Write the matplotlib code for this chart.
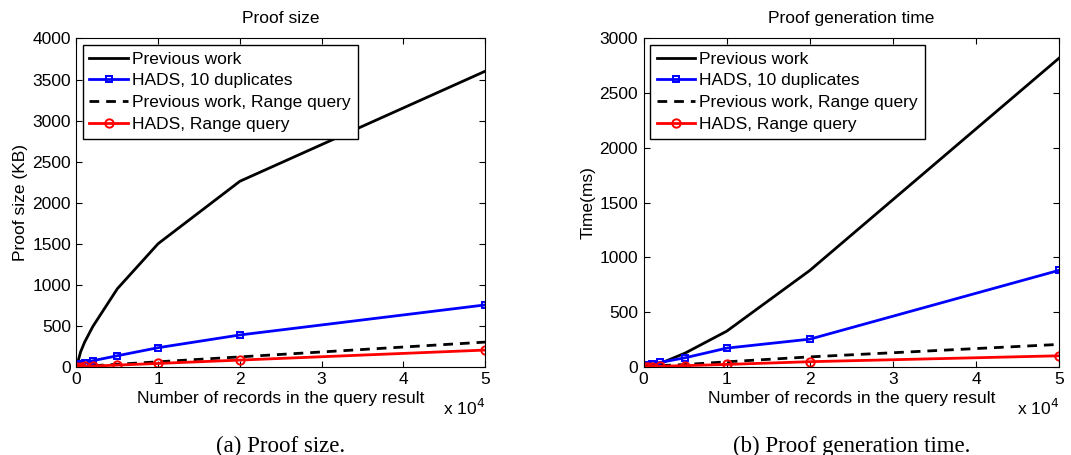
import numpy as np
import matplotlib
matplotlib.use('Agg')
from matplotlib import pyplot as plt

plt.rcParams['font.family'] = ['Liberation Sans', 'DejaVu Sans']

fontsz = 12.5

# number of records in the query result
x = [100, 500, 1000, 2000, 5000, 10000, 20000, 50000]

# proof size (KB)
size_prev = [30, 180, 300, 490, 950, 1500, 2260, 3600]
size_hads = [10, 30, 42, 73, 134, 232, 387, 753]
size_prev_range = [1, 3, 6, 12, 30, 60, 120, 300]
size_hads_range = [0.4, 2, 4, 8, 20, 40, 81, 203]

# proof generation time (ms)
time_prev = [2, 8, 15, 30, 125, 325, 880, 2820]
time_hads = [5, 15, 24, 40, 82, 170, 252, 881]
time_prev_range = [1, 3, 5, 10, 20, 45, 90, 204]
time_hads_range = [0.5, 1, 2, 4, 10, 21, 46, 100]

labels = ['Previous work', 'HADS, 10 duplicates', 'Previous work, Range query', 'HADS, Range query']


def draw_panel(ax, ys, ymax, ystep, title, ylabel, caption):
    ax.plot(x, ys[0], color='k', lw=2, label=labels[0])
    ax.plot(x, ys[1], color='b', lw=2, marker='s', ms=5, mfc='none', mew=1.4, label=labels[1])
    ax.plot(x, ys[2], color='k', lw=2, ls=(0, (3.5, 2.5)), label=labels[2])
    ax.plot(x, ys[3], color='r', lw=2, marker='o', ms=6, mfc='none', mew=1.4, label=labels[3])
    ax.set_xlim(0, 50000)
    ax.set_ylim(0, ymax)
    ax.set_xticks(np.arange(0, 50001, 10000))
    ax.set_xticklabels(['0', '1', '2', '3', '4', '5'])
    ax.set_yticks(np.arange(0, ymax + 1, ystep))
    ax.tick_params(direction='in', top=True, right=True, labelsize=fontsz, length=4, pad=4)
    ax.set_title(title, fontsize=fontsz, pad=11)
    ax.set_ylabel(ylabel, fontsize=fontsz, labelpad=3)
    ax.set_xlabel('Number of records in the query result', fontsize=fontsz, labelpad=3)
    ax.text(1.0, -0.095, r'x 10$^4$', transform=ax.transAxes, fontsize=fontsz, ha='right', va='top')
    ax.text(0.5, -0.21, caption, transform=ax.transAxes, fontsize=16.5, ha='center', va='top',
            family='Liberation Serif')
    leg = ax.legend(loc='upper left', fontsize=fontsz, handlelength=2.2, handletextpad=0.25,
                    labelspacing=0.38, borderpad=0.4, borderaxespad=0.35, fancybox=False, framealpha=1)
    leg.get_frame().set_edgecolor('k')
    leg.get_frame().set_linewidth(1.0)


fig = plt.figure(figsize=(10.71, 4.55), dpi=100)
ax1 = fig.add_axes([0.0714, 0.194, 0.3814, 0.7214])
ax2 = fig.add_axes([0.601, 0.194, 0.3878, 0.7214])

draw_panel(ax1, [size_prev, size_hads, size_prev_range, size_hads_range], 4000, 500,
           'Proof size', 'Proof size (KB)', '(a) Proof size.')
draw_panel(ax2, [time_prev, time_hads, time_prev_range, time_hads_range], 3000, 500,
           'Proof generation time', 'Time(ms)', '(b) Proof generation time.')

plt.savefig('out.png', dpi=100)
